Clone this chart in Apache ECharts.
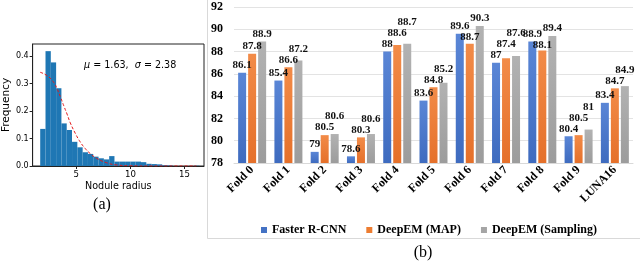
<!DOCTYPE html>
<html>
<head>
<meta charset="utf-8">
<script src="https://cdn.jsdelivr.net/npm/echarts@6/dist/echarts.min.js"></script>
<style>
html,body{margin:0;padding:0;background:#fff;}
#chart{width:640px;height:263px;}
</style>
</head>
<body>
<div id="chart"></div>
<script>
// ---------- Panel (a): histogram of nodule radius ----------
const binEdges = [1.67, 2.16, 2.65, 3.14, 3.63, 4.12, 4.61, 5.10, 5.59, 6.08, 6.57, 7.06, 7.55, 8.04, 8.53,
                  9.02, 9.51, 10.00, 10.49, 10.98, 11.47, 11.96, 12.45, 12.94, 13.43, 13.92, 14.41, 14.90, 15.39, 15.88, 16.37];
const binFreq = [0.135, 0.418, 0.377, 0.283, 0.155, 0.131, 0.088, 0.068, 0.050, 0.044, 0.034, 0.028, 0.024, 0.036,
                 0.016, 0.016, 0.016, 0.016, 0.016, 0.014, 0.008, 0.007, 0.006, 0.003, 0.002, 0, 0, 0, 0, 0.001];
const fitX = [1.67, 2.34, 2.94, 3.25, 3.55, 3.85, 4.15, 4.45, 4.91, 5.36, 5.82, 6.27, 6.88, 7.79, 8.7, 10, 12, 14, 16.1];
const fitY = [0.341, 0.328, 0.303, 0.279, 0.25, 0.219, 0.189, 0.157, 0.119, 0.088, 0.064, 0.046, 0.028, 0.012, 0.004, 0.001, 0, 0, 0];

// ---------- Panel (b): grouped bar chart ----------
const categories = ['Fold 0', 'Fold 1', 'Fold 2', 'Fold 3', 'Fold 4', 'Fold 5', 'Fold 6', 'Fold 7', 'Fold 8', 'Fold 9', 'LUNA16'];
const seriesNames = ['Faster R-CNN', 'DeepEM (MAP)', 'DeepEM (Sampling)'];
const fasterRCNN = [86.1, 85.4, 79, 78.6, 88, 83.6, 89.6, 87, 88.9, 80.4, 83.4];
const deepEMMap = [87.8, 86.6, 80.5, 80.3, 88.6, 84.8, 88.7, 87.4, 88.1, 80.5, 84.7];
const deepEMSampling = [88.9, 87.2, 80.6, 80.6, 88.7, 85.2, 90.3, 87.6, 89.4, 81, 84.9];
const yTicksB = [78, 80, 82, 84, 86, 88, 90, 92];

const histData = binFreq.map((f, i) => [binEdges[i], binEdges[i + 1], f]);
const fitData = fitX.map((x, i) => [x, fitY[i]]);
const barValues = [fasterRCNN, deepEMMap, deepEMSampling];

const serif = '"Liberation Serif", "Times New Roman", serif';
const sans = '"DejaVu Sans", sans-serif';

function grad(top, bottom) {
  return new echarts.graphic.LinearGradient(0, 0, 0, 1, [
    { offset: 0, color: top }, { offset: 1, color: bottom }
  ]);
}
const barColors = [grad('#5a86d6', '#3e6bbf'), grad('#f28b48', '#e5702a'), grad('#b2b2b2', '#9c9c9c')];
const legendColors = ['#4472c4', '#ed7d31', '#a5a5a5'];

const labelStyle = {
  show: true, position: 'top', distance: 2,
  fontFamily: serif, fontWeight: 'bold', fontSize: 11, color: '#111'
};

// Move a label so it does not collide with the label of the neighbouring bar to its left.
const LABEL_H = 11;
function labelLift(params) {
  const s = params.seriesIndex - 2;
  const i = params.dataIndex;
  if (s < 0) return {};
  const rect = params.rect;
  const v = barValues[s][i];
  const ppu = rect.height / (v - yTicksB[0]);
  let prevTop = (barValues[0][i] - yTicksB[0]) * ppu;
  let level = prevTop;
  let lift = 0;
  for (let k = 1; k <= s; k++) {
    const top = (barValues[k][i] - yTicksB[0]) * ppu;
    const L = top < prevTop ? Math.min(top, level - LABEL_H) : Math.max(top, level + LABEL_H);
    lift = L - top;
    level = L;
    prevTop = top;
  }
  return { dy: -lift };
}

function barSeries(name, data, idx) {
  return {
    name: name, type: 'bar', xAxisIndex: 1, yAxisIndex: 1,
    data: data, barWidth: 8, barGap: '25%',
    itemStyle: { color: barColors[idx] },
    label: labelStyle,
    labelLayout: labelLift,
    emphasis: { disabled: true }
  };
}

const chart = echarts.init(document.getElementById('chart'), null, { renderer: 'canvas' });
chart.setOption({
  animation: false,
  backgroundColor: '#fff',
  grid: [
    { left: 30, top: 44, width: 174, height: 122, show: true, borderColor: '#222', borderWidth: 1, containLabel: false },
    { left: 234, right: 7, top: 7, bottom: 100, containLabel: false }
  ],
  xAxis: [
    {
      gridIndex: 0, type: 'value', min: 0.97, max: 16.8, splitNumber: 3,
      name: 'Nodule radius', nameLocation: 'middle', nameGap: 15,
      nameTextStyle: { fontFamily: sans, fontSize: 9.6, color: '#000' },
      axisLine: { show: true, lineStyle: { color: '#222', width: 1 } },
      axisTick: { show: true, length: 3, lineStyle: { color: '#222' } },
      axisLabel: { fontFamily: sans, fontSize: 8.6, color: '#000', margin: 4, showMinLabel: false, showMaxLabel: false },
      splitLine: { show: false }
    },
    {
      gridIndex: 1, type: 'category', data: categories,
      axisLine: { show: true, lineStyle: { color: '#d9d9d9', width: 1 } },
      axisTick: { show: false },
      axisLabel: { interval: 0, rotate: 45, margin: 5, fontFamily: serif, fontWeight: 'bold', fontSize: 12, color: '#000' },
      splitLine: { show: false }
    }
  ],
  yAxis: [
    {
      gridIndex: 0, type: 'value', min: 0, max: 0.444, splitNumber: 4,
      name: 'Frequency', nameLocation: 'middle', nameGap: 19, nameRotate: 90,
      nameTextStyle: { fontFamily: sans, fontSize: 10.5, color: '#000' },
      axisLine: { show: true, lineStyle: { color: '#222', width: 1 } },
      axisTick: { show: true, length: 3, lineStyle: { color: '#222' } },
      axisLabel: { fontFamily: sans, fontSize: 8, color: '#000', margin: 4, showMaxLabel: false,
                   formatter: v => v.toFixed(1) },
      splitLine: { show: false }
    },
    {
      gridIndex: 1, type: 'value', min: yTicksB[0], max: yTicksB[yTicksB.length - 1], interval: 2,
      axisLine: { show: false }, axisTick: { show: false },
      axisLabel: { fontFamily: serif, fontWeight: 'bold', fontSize: 12, color: '#000', margin: 11 },
      splitLine: { show: true, lineStyle: { color: '#e3e3e3', width: 1 } }
    }
  ],
  legend: {
    data: seriesNames.map((n, i) => ({ name: n, itemStyle: { color: legendColors[i] } })),
    left: 256, top: 219, icon: 'rect', itemWidth: 6, itemHeight: 6, itemGap: 20,
    textStyle: { fontFamily: serif, fontWeight: 'bold', fontSize: 12, color: '#000' },
    selectedMode: false
  },
  series: [
    {
      type: 'custom', xAxisIndex: 0, yAxisIndex: 0, data: histData,
      encode: { x: [0, 1], y: 2 },
      renderItem: function (params, api) {
        const p0 = api.coord([api.value(0), 0]);
        const p1 = api.coord([api.value(1), api.value(2)]);
        return {
          type: 'rect',
          shape: { x: p0[0], y: p1[1], width: p1[0] - p0[0], height: p0[1] - p1[1] },
          style: { fill: '#1f77b4' }
        };
      },
      silent: true
    },
    {
      type: 'line', xAxisIndex: 0, yAxisIndex: 0, data: fitData, smooth: true,
      symbol: 'none', lineStyle: { color: '#e31a1c', width: 1, type: [3, 2] }, silent: true, z: 5
    },
    barSeries(seriesNames[0], fasterRCNN, 0),
    barSeries(seriesNames[1], deepEMMap, 1),
    barSeries(seriesNames[2], deepEMSampling, 2)
  ],
  graphic: [
    {
      type: 'rect', silent: true, z: -10,
      shape: { x: 207.5, y: -5, width: 440, height: 243.5 },
      style: { fill: 'none', stroke: '#d9d9d9', lineWidth: 1 }
    },
    {
      type: 'text', silent: true, x: 84, y: 65,
      style: {
        text: '{i|μ} = 1.63,  {i|σ} = 2.38', verticalAlign: 'middle', textVerticalAlign: 'middle',
        font: '9.6px "DejaVu Sans"', fill: '#000',
        rich: { i: { fontFamily: sans, fontStyle: 'italic', fontSize: 9.6 } }
      }
    },
    {
      type: 'text', silent: true, x: 102, y: 205,
      style: { text: '(a)', align: 'center', verticalAlign: 'middle', textAlign: 'center', textVerticalAlign: 'middle',
               font: '16px "Liberation Serif"', fill: '#000' }
    },
    {
      type: 'text', silent: true, x: 423, y: 253,
      style: { text: '(b)', align: 'center', verticalAlign: 'middle', textAlign: 'center', textVerticalAlign: 'middle',
               font: '16px "Liberation Serif"', fill: '#000' }
    }
  ]
});
</script>
</body>
</html>
